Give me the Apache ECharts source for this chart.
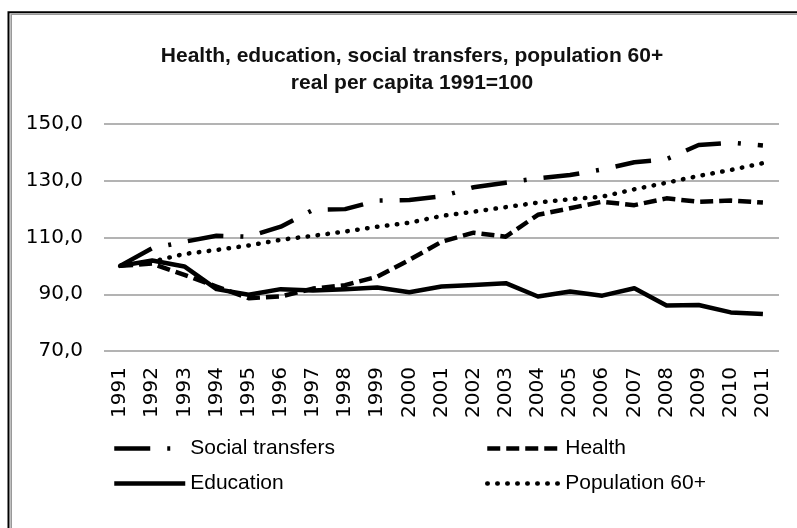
<!DOCTYPE html>
<html><head><meta charset="utf-8">
<script src="https://cdn.jsdelivr.net/npm/echarts@6/dist/echarts.min.js"></script>
<style>html,body{margin:0;padding:0;background:#fff}#c{width:797px;height:528px}</style>
</head><body><div id="c"></div>
<script>
const years = ['1991','1992','1993','1994','1995','1996','1997','1998','1999','2000','2001','2002','2003','2004','2005','2006','2007','2008','2009','2010','2011'];
const socialTransfers = [100,106.2,108.5,110.6,110.3,113.8,119.7,120,123,123.2,124.5,127.7,129.3,130.9,132,134,136.5,137.6,142.6,143.4,142.4];
const health = [100,100.8,96.8,92.7,88.6,89.2,92,93.2,96.2,102.1,108.5,111.7,110.3,118,120.3,122.6,121.4,123.8,122.6,123,122.3];
const education = [100,101.9,99.8,91.8,89.8,91.8,91.3,91.8,92.4,90.7,92.7,93.3,93.9,89.2,91,89.5,92.1,86,86.2,83.6,83];
const population60 = [100,101.5,104.2,105.6,107.2,109.2,110.6,112.1,113.8,115.2,117.6,119.1,120.7,122.3,123.5,124.4,127,129.3,131.7,133.8,136.2];
const yTicks = [70,90,110,130,150];

const chart = echarts.init(document.getElementById('c'), null, {renderer:'canvas'});
const lw = 4.5;
function mk(name, data, type, cap){
  return {name, type:'line', data, symbol:'none', smooth:false,
    lineStyle:{color:'#000', width:lw, type, cap:cap||'butt', join:'round'},
    itemStyle:{color:'#000'}, z:3};
}
const legendCommon = {orient:'vertical', top:438, padding:0, itemHeight:14, itemGap:14,
  itemStyle:{color:'rgba(0,0,0,0)', borderWidth:0, opacity:0},
  lineStyle:{width:4.5, type:'inherit', color:'#000', cap:'inherit'},
  textStyle:{fontFamily:'Liberation Sans', fontSize:21, color:'#000'}};
chart.setOption({
  animation:false,
  backgroundColor:'#fff',
  title:{
    text:'Health, education, social transfers, population 60+\nreal per capita 1991=100',
    left:407, top:38, textAlign:'center',
    textStyle:{fontFamily:'Liberation Sans', fontSize:21, fontWeight:'bold', color:'#111', lineHeight:27}
  },
  graphic:[
    {type:'rect', shape:{x:8.5,y:12.2,width:900,height:900}, style:{fill:'none', stroke:'#000', lineWidth:2}, silent:true},
    {type:'rect', shape:{x:11.2,y:14.3,width:900,height:900}, style:{fill:'none', stroke:'#999', lineWidth:1.6}, silent:true}
  ],
  grid:{left:104, right:18, top:124, bottom:177, containLabel:false},
  xAxis:{type:'category', data:years, boundaryGap:true,
    axisLine:{show:false}, axisTick:{show:false},
    axisLabel:{rotate:90, margin:16, fontFamily:'DejaVu Sans', fontSize:20, color:'#000'}},
  yAxis:{type:'value', min:70, max:150, interval:20,
    axisLine:{show:false}, axisTick:{show:false},
    splitLine:{show:true, lineStyle:{color:'#9a9a9a', width:1.5}},
    axisLabel:{margin:21, fontFamily:'DejaVu Sans', fontSize:20, color:'#000',
      formatter:function(v){return yTicks.indexOf(v)>=0 ? v.toFixed(1).replace('.',',') : '';}}},
  legend:[
    Object.assign({}, legendCommon, {data:['Social transfers','Education'], left:112, itemWidth:71}),
    Object.assign({}, legendCommon, {data:['Health','Population 60+'], left:485, itemWidth:73})
  ],
  series:[
    mk('Social transfers', socialTransfers, [36,17,3,17]),
    mk('Health', health, [13,6]),
    mk('Education', education, 'solid'),
    mk('Population 60+', population60, [0.5,9.5], 'round')
  ]
});
</script></body></html>
